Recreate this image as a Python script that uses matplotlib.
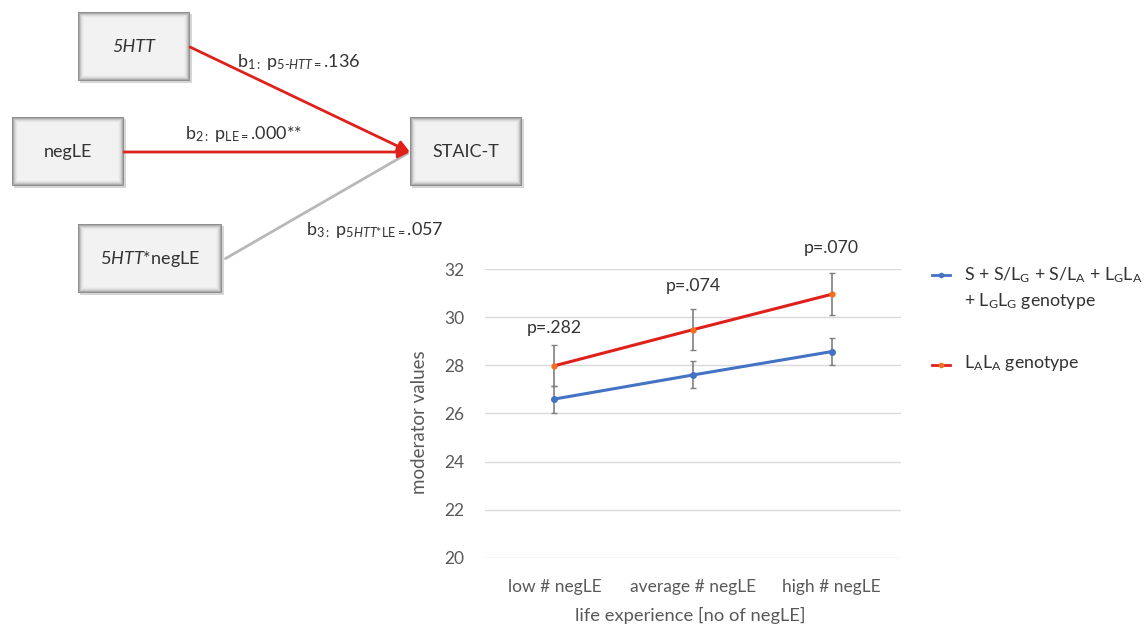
import matplotlib
matplotlib.use("Agg")
import matplotlib.pyplot as plt
from matplotlib.patches import Rectangle, FancyArrowPatch
from matplotlib.lines import Line2D

plt.rcParams['font.family'] = ['Lato', 'DejaVu Sans']
plt.rcParams['mathtext.fontset'] = 'custom'
plt.rcParams['mathtext.rm'] = 'Lato'
plt.rcParams['mathtext.it'] = 'Lato:italic'
plt.rcParams['mathtext.bf'] = 'Lato:bold'

# ---- data ----
categories = ["low # negLE", "average # negLE", "high # negLE"]
blue_vals = [26.6, 27.6, 28.57]
blue_err = [0.56, 0.56, 0.57]
red_vals = [27.98, 29.48, 30.95]
red_err = [0.85, 0.85, 0.87]
p_labels = ["p=.282", "p=.074", "p=.070"]
p_label_y = [29.55, 31.28, 32.87]
yticks = [20, 22, 24, 26, 28, 30, 32]
blue_label_1 = r"S + S/L$_\mathregular{G}$ + S/L$_\mathregular{A}$ + L$_\mathregular{G}$L$_\mathregular{A}$"
blue_label_2 = r"+ L$_\mathregular{G}$L$_\mathregular{G}$ genotype"
red_label = r"L$_\mathregular{A}$L$_\mathregular{A}$ genotype"

BLUE = "#4472c4"
RED = "#e0201b"
GRAY_TXT = "#595959"

W, H = 1144, 631
fig = plt.figure(figsize=(W / 100, H / 100), dpi=100)

# ---- overlay for the path diagram (pixel coords) ----
ov = fig.add_axes([0, 0, 1, 1])
ov.set_xlim(0, W)
ov.set_ylim(H, 0)
ov.axis('off')


def box(x0, y0, x1, y1):
    ov.add_patch(Rectangle((x0 + 2, y0 + 2), x1 - x0, y1 - y0, color="#d6d6d6", lw=0, zorder=1))
    shades = ["#8f8f8f", "#ababab", "#c6c6c6", "#dadada", "#e6e6e6", "#eeeeee", "#f2f2f2"]
    for i, c in enumerate(shades):
        ov.add_patch(Rectangle((x0 + i, y0 + i), (x1 - x0) - 2 * i, (y1 - y0) - 2 * i,
                               color=c, lw=0, zorder=2 + i * 0.01))


box(78, 12, 190, 81)
box(12, 117, 124, 186)
box(78, 224, 222, 293)
box(410, 117, 522, 186)

tfs = 13
ov.text(134, 47, "5HTT", style='italic', ha='center', va='center', fontsize=tfs, color="#333333", zorder=5)
ov.text(68, 152, "negLE", ha='center', va='center', fontsize=tfs, color="#333333", zorder=5)
ov.text(150, 259, r"$\mathit{5HTT}$*negLE", ha='center', va='center', fontsize=tfs, color="#333333", zorder=5)
ov.text(466, 152, "STAIC-T", ha='center', va='center', fontsize=tfs, color="#333333", zorder=5)

tip = (410, 152)
ov.add_patch(FancyArrowPatch((223, 260), tip, arrowstyle='-', color="#b8b8b8", lw=2, zorder=3))
ov.add_patch(FancyArrowPatch((190, 47), tip, arrowstyle='-|>,head_length=7,head_width=3.5',
                             color=RED, lw=2, zorder=4, shrinkA=0, shrinkB=0))
ov.add_patch(FancyArrowPatch((124, 152), tip, arrowstyle='-|>,head_length=7,head_width=3.5',
                             color=RED, lw=2, zorder=4, shrinkA=0, shrinkB=0))

lfs = 13
ov.text(237, 62, r"b$_{\mathregular{1}{:}}$ p$_{\mathit{5{\text{-}}HTT}{=}}$.136", fontsize=lfs, color="#333333",
        ha='left', va='center', zorder=5)
ov.text(185, 134, r"b$_{\mathregular{2}{:}}$ p$_{\mathregular{LE}{=}}$.000**", fontsize=lfs, color="#333333",
        ha='left', va='center', zorder=5)
ov.text(306, 230, r"b$_{\mathregular{3}{:}}$ p$_{\mathit{5HTT}\mathregular{*LE}{=}}$.057", fontsize=lfs, color="#333333",
        ha='left', va='center', zorder=5)

# ---- line chart ----
ax = fig.add_axes([485 / W, 1 - 558 / H, 416 / W, 289 / H])
x = list(range(len(categories)))
ax.errorbar(x, red_vals, yerr=red_err, fmt='none', ecolor="#808080", elinewidth=1.2, capsize=2, zorder=2)
ax.errorbar(x, blue_vals, yerr=blue_err, fmt='none', ecolor="#808080", elinewidth=1.2, capsize=2, zorder=2)
ax.plot(x, blue_vals, color=BLUE, lw=2.2, marker='o', ms=4, mfc=BLUE, mec=BLUE, zorder=3)
ax.plot(x, red_vals, color=RED, lw=2.2, marker='o', ms=3.5, mfc="#f07020", mec="#f07020", zorder=3)

for xi, lab, yy in zip(x, p_labels, p_label_y):
    ax.text(xi, yy, lab, ha='center', va='center', fontsize=12.7, color="#333333", clip_on=False)

ax.set_xlim(-0.5, 2.5)
ax.set_ylim(20, 32)
ax.set_yticks(yticks)
ax.set_xticks(x)
ax.set_xticklabels(categories)
ax.grid(axis='y', color="#d9d9d9", lw=1)
ax.set_axisbelow(True)
for s in ax.spines.values():
    s.set_visible(False)
ax.tick_params(axis='both', length=0, labelsize=12.5, colors=GRAY_TXT)
ax.tick_params(axis='y', pad=15)
ax.tick_params(axis='x', pad=15)
ax.set_ylabel("moderator values", fontsize=13.5, color=GRAY_TXT)
ax.set_xlabel("life experience [no of negLE]", fontsize=13.2, color=GRAY_TXT)
ax.yaxis.set_label_coords(-0.136, 0.47)
ax.xaxis.set_label_coords(0.493, -0.17)
ax.patch.set_alpha(0)

# ---- legend (manual) ----
ov.add_line(Line2D([932, 950], [275, 275], color=BLUE, lw=2, zorder=5))
ov.add_line(Line2D([941], [275], marker='o', ms=3, color=BLUE, lw=0, zorder=6))
ov.add_line(Line2D([932, 950], [365, 365], color=RED, lw=2, zorder=5))
ov.add_line(Line2D([941], [365], marker='o', ms=3, color="#f07020", lw=0, zorder=6))
ov.text(964, 275, blue_label_1, fontsize=12.8, color="#333333", ha='left', va='center', zorder=5)
ov.text(964, 301, blue_label_2, fontsize=12.8, color="#333333", ha='left', va='center', zorder=5)
ov.text(964, 363, red_label, fontsize=12.8, color="#333333", ha='left', va='center', zorder=5)

fig.savefig("out.png", dpi=100)
